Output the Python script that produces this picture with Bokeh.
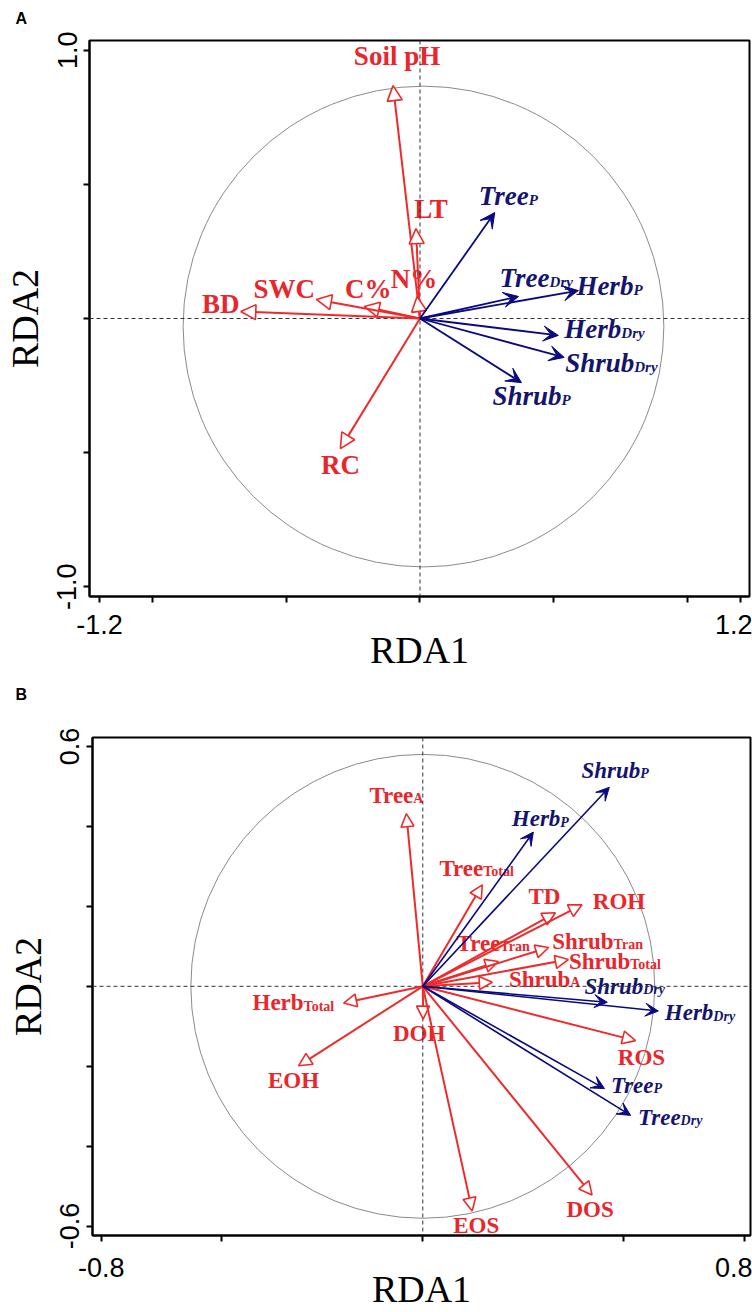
from bokeh.plotting import figure
from bokeh.models import ColumnDataSource, Arrow, NormalHead, VeeHead, Span, FixedTicker
from bokeh.layouts import column, row
from bokeh.core.properties import value
from bokeh.embed import file_html
from bokeh.resources import INLINE

# ---------------- data: panel A ----------------
a_env_names = ["Soil pH", "LT", "N%", "C%", "SWC", "BD", "RC"]
a_env_x = [-0.101, -0.015, -0.011, -0.209, -0.388, -0.671, -0.298]
a_env_y = [0.868, 0.335, 0.082, 0.045, 0.071, 0.026, -0.485]

a_veg_main = ["Tree", "Tree", "Herb", "Herb", "Shrub", "Shrub"]
a_veg_sub = ["P", "Dry", "P", "Dry", "Dry", "P"]
a_veg_x = [0.280, 0.369, 0.593, 0.518, 0.540, 0.380]
a_veg_y = [0.395, 0.082, 0.104, -0.063, -0.145, -0.239]

a_xticks = [-1.2, -1.0, -0.5, 0.0, 0.5, 1.0, 1.2]
a_yticks = [-1.0, -0.5, 0.0, 0.5, 1.0]
a_xlabels = {-1.2: "-1.2", 1.2: "1.2"}
a_ylabels = {-1.0: "-1.0", 1.0: "1.0"}
a_circle_center = [0.013, -0.03]
a_circle_radius = 0.9

# ---------------- data: panel B ----------------
b_envsub_main = ["Tree", "Tree", "Tree", "Shrub", "Shrub", "Shrub", "Herb"]
b_envsub_sub = ["A", "Total", "Tran", "Tran", "Total", "A", "Total"]
b_envsub_x = [-0.041, 0.148, 0.188, 0.313, 0.362, 0.173, -0.197]
b_envsub_y = [0.432, 0.254, 0.062, 0.097, 0.067, 0.010, -0.042]

b_env_names = ["TD", "ROH", "EOH", "DOH", "EOS", "DOS", "ROS"]
b_env_x = [0.330, 0.396, -0.309, 0.001, 0.123, 0.421, 0.529]
b_env_y = [0.184, 0.204, -0.199, -0.082, -0.562, -0.522, -0.136]

b_veg_main = ["Shrub", "Herb", "Shrub", "Herb", "Tree", "Tree"]
b_veg_sub = ["P", "P", "Dry", "Dry", "P", "Dry"]
b_veg_x = [0.464, 0.275, 0.459, 0.586, 0.452, 0.517]
b_veg_y = [0.498, 0.386, -0.040, -0.062, -0.256, -0.323]

b_xticks = [-0.8, -0.5, 0.0, 0.5, 0.8]
b_yticks = [-0.6, -0.4, -0.2, 0.0, 0.2, 0.4, 0.6]
b_xlabels = {-0.8: "-0.8", 0.8: "0.8"}
b_ylabels = {-0.6: "-0.6", 0.6: "0.6"}
b_circle_center = [0.0, 0.0]
b_circle_radius = 0.577

panel_tags = ["A", "B"]

# ---------------- label placement (pixel offsets from arrow tips to text baseline) ----------------
a_env_dx = [4, 15, -3, 4, -32, -20, 0]
a_env_dy = [-20, -10, -8, -8, -1, 2, 26]
a_veg_dx = [34, 31, 55, 63, 70, 40]
a_veg_dy = [-7, -9, 5, 3, 15, 23]
b_envsub_dx = [7, 1, 2, 65, 62, 78, -40]
b_envsub_dy = [-10, -8, -10, 2, 10, 5, 8]
b_env_dx = [-11, 37, -5, -4, 4, -2, 6]
b_env_dy = [-8, 5, 23, 23, 23, 23, 25]
b_veg_dx = [31, 27, 36, 55, 49, 50]
b_veg_dy = [-9, -5, -8, 10, 5, 10]

RED_TXT = "#e8262b"
RED_LN = "#ee2b2b"
BLUE_TXT = "#14146e"
BLUE_LN = "#0a0a80"
SERIF = "Liberation Serif"
SANS = "Liberation Sans"
BASE_K = 0.36  # renderer baseline correction (fraction of font size)


def tag_fig(letter, height, center_from_top):
    p = figure(width=752, height=height, x_range=(0, 752), y_range=(0, height),
               x_axis_location=None, y_axis_location=None,
               min_border=0, min_border_left=0, min_border_right=0,
               min_border_top=0, min_border_bottom=0,
               output_backend="svg", toolbar_location=None)
    p.grid.visible = False
    p.outline_line_color = None
    p.background_fill_color = "white"
    p.border_fill_color = "white"
    p.text(x=[15], y=[height - center_from_top], text=[letter],
           text_align="left", text_baseline="middle", text_font=value(SANS),
           text_font_style="bold", text_font_size="16px", text_color="black")
    return p


def base_fig(height, xr, yr, borders, xticks, yticks, xlab, ylab, xstand):
    p = figure(width=752, height=height, x_range=xr, y_range=yr,
               output_backend="svg", toolbar_location=None,
               min_border_left=borders[0], min_border_right=borders[1],
               min_border_top=borders[2], min_border_bottom=borders[3])
    p.xgrid.visible = False
    p.ygrid.visible = False
    p.background_fill_color = "white"
    p.border_fill_color = "white"
    p.outline_line_color = "black"
    p.outline_line_width = 2
    p.outline_line_alpha = 1.0
    for ax, ticks, labs, name in ((p.xaxis[0], xticks, xlab, "RDA1"), (p.yaxis[0], yticks, ylab, "RDA2")):
        ax.ticker = FixedTicker(ticks=ticks)
        ov = {t: "" for t in ticks}
        ov.update(labs)
        ax.major_label_overrides = ov
        ax.axis_line_width = 2
        ax.axis_line_color = "black"
        ax.major_tick_line_width = 2
        ax.major_tick_line_color = "black"
        ax.major_tick_out = 6
        ax.major_tick_in = 0
        ax.minor_tick_out = 0
        ax.minor_tick_in = 0
        ax.major_label_text_font = SANS
        ax.major_label_text_font_size = "27px"
        ax.major_label_text_color = "black"
        ax.axis_label = name
        ax.axis_label_text_font = SERIF
        ax.axis_label_text_font_size = "38px"
        ax.axis_label_text_font_style = "normal"
        ax.axis_label_text_color = "black"
    p.xaxis[0].major_label_standoff = xstand[0]
    p.xaxis[0].axis_label_standoff = xstand[1]
    p.yaxis[0].major_label_standoff = 7
    p.yaxis[0].axis_label_standoff = 9
    p.yaxis[0].major_label_orientation = "vertical"
    p.add_layout(Span(location=0, dimension="width", line_color="#333333", line_dash="4 3", line_width=1))
    p.add_layout(Span(location=0, dimension="height", line_color="#333333", line_dash="4 3", line_width=1))
    return p


def add_circle(p, center, r):
    p.circle(x=[center[0]], y=[center[1]], radius=r, fill_color=None,
             line_color="#8a8a8a", line_width=1)


def add_arrows(p, xs, ys, color, open_head, width, hsize):
    src = ColumnDataSource(dict(x=xs, y=ys))
    if open_head:
        head = NormalHead(size=hsize, fill_color="white", line_color=color, line_width=1.6)
    else:
        head = VeeHead(size=hsize, fill_color=color, line_color=color, line_width=1)
    p.add_layout(Arrow(end=head, x_start=0, y_start=0, x_end="x", y_end="y", source=src,
                       line_color=color, line_width=width))


def add_plain_labels(p, names, xs, ys, dx, dy, size):
    dyc = [d - BASE_K * size for d in dy]
    src = ColumnDataSource(dict(x=xs, y=ys, t=names, dx=dx, dy=dyc))
    p.text(x="x", y="y", text="t", x_offset="dx", y_offset="dy", source=src,
           text_align="center", text_baseline="alphabetic",
           text_font=value(SERIF), text_font_style="bold",
           text_font_size=f"{size}px", text_color=RED_TXT)


def add_sub_labels(p, mains, subs, xs, ys, dx, dy, size, subsize, color, style):
    dym = [d - BASE_K * size for d in dy]
    dys = [d - BASE_K * subsize for d in dy]
    src = ColumnDataSource(dict(x=xs, y=ys, m=mains, s=subs, dx=dx, dym=dym, dys=dys))
    p.text(x="x", y="y", text="m", x_offset="dx", y_offset="dym", source=src,
           text_align="right", text_baseline="alphabetic",
           text_font=value(SERIF), text_font_style=style,
           text_font_size=f"{size}px", text_color=color)
    p.text(x="x", y="y", text="s", x_offset="dx", y_offset="dys", source=src,
           text_align="left", text_baseline="alphabetic",
           text_font=value(SERIF), text_font_style=style,
           text_font_size=f"{subsize}px", text_color=color)


# ---------------- panel A ----------------
ta = tag_fig(panel_tags[0], 30, 18)
pa = base_fig(650, (-1.2374, 1.2337), (-1.0361, 1.0361), (86, 3, 10, 84),
              a_xticks, a_yticks, a_xlabels, a_ylabels, (12, -8))
add_circle(pa, a_circle_center, a_circle_radius)
add_arrows(pa, a_env_x, a_env_y, RED_LN, True, 2, 15)
add_arrows(pa, a_veg_x, a_veg_y, BLUE_LN, False, 1.8, 15)
add_plain_labels(pa, a_env_names, a_env_x, a_env_y, a_env_dx, a_env_dy, 27)
add_sub_labels(pa, a_veg_main, a_veg_sub, a_veg_x, a_veg_y, a_veg_dx, a_veg_dy,
               27, 15, BLUE_TXT, "bold italic")

# ---------------- panel B ----------------
tb = tag_fig(panel_tags[1], 30, 14)
pb = base_fig(602, (-0.8216, 0.8152), (-0.6236, 0.6226), (92, 2, 27, 74),
              b_xticks, b_yticks, b_xlabels, b_ylabels, (16, -12))
add_circle(pb, b_circle_center, b_circle_radius)
add_arrows(pb, b_envsub_x + b_env_x, b_envsub_y + b_env_y, RED_LN, True, 2, 13)
add_arrows(pb, b_veg_x, b_veg_y, BLUE_LN, False, 1.6, 13)
add_plain_labels(pb, b_env_names, b_env_x, b_env_y, b_env_dx, b_env_dy, 23)
add_sub_labels(pb, b_envsub_main, b_envsub_sub, b_envsub_x, b_envsub_y, b_envsub_dx, b_envsub_dy,
               23, 14, RED_TXT, "bold")
add_sub_labels(pb, b_veg_main, b_veg_sub, b_veg_x, b_veg_y, b_veg_dx, b_veg_dy,
               23, 14, BLUE_TXT, "bold italic")

layout = column(row(ta), row(pa), row(tb), row(pb), spacing=0)
open("out.html", "w").write(file_html(layout, INLINE))
